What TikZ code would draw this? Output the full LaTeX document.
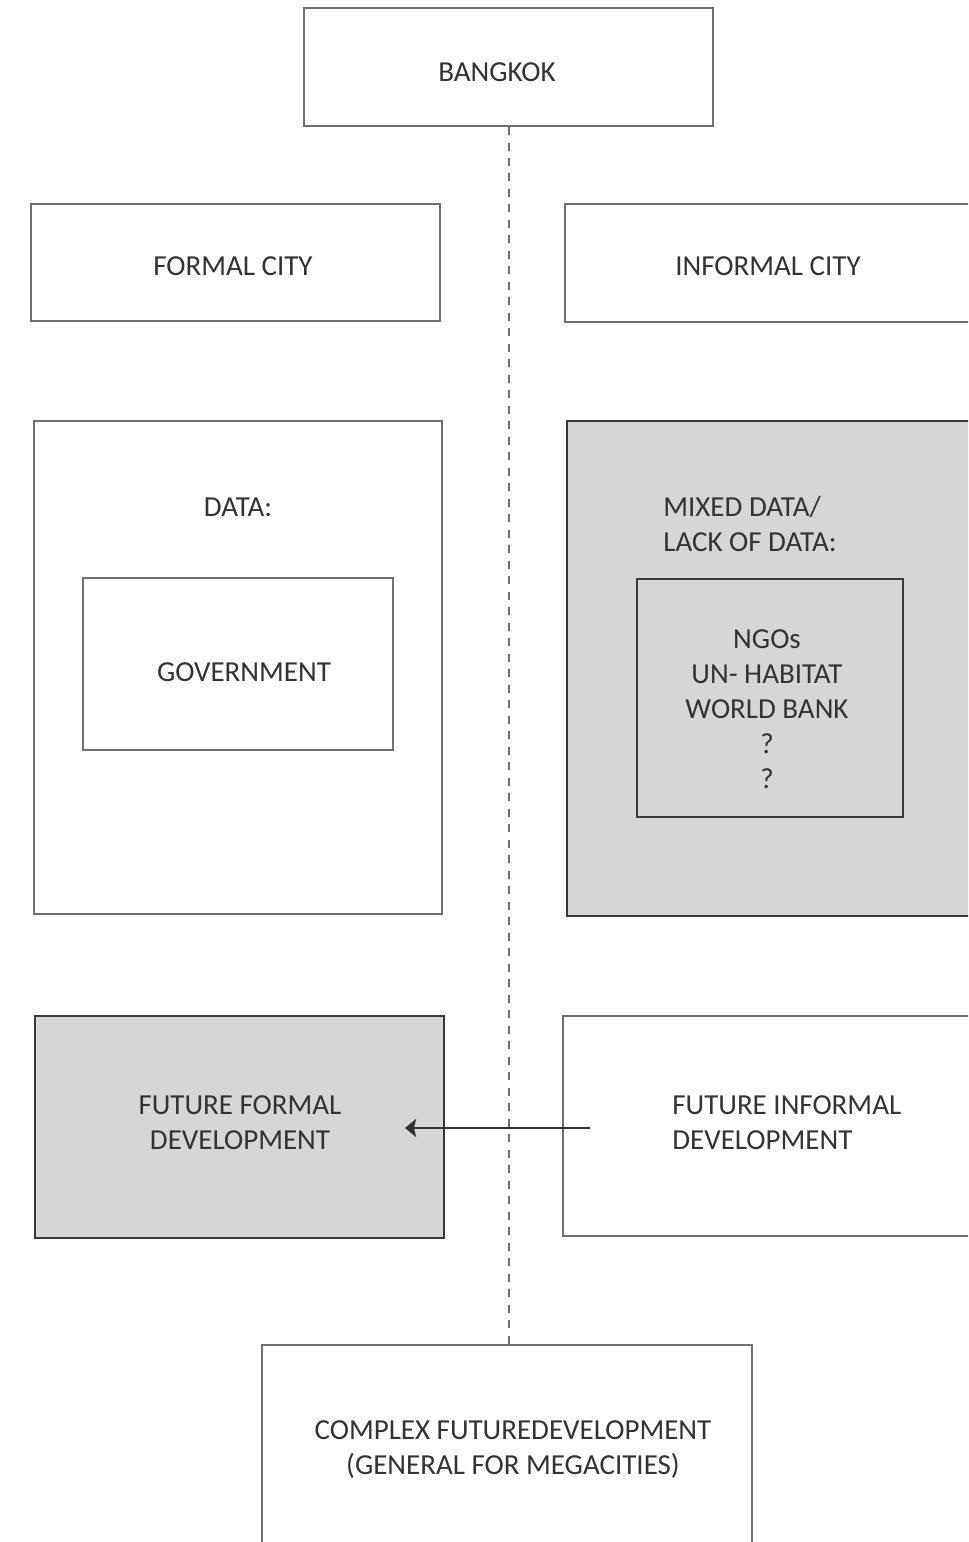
\documentclass[tikz,border=0pt]{standalone}
\usepackage{fontspec}
\setmainfont{Carlito}
\usepackage{xcolor}
\usetikzlibrary{positioning,
	fit,
	arrows.meta}
\definecolor{edge}{HTML}{707070}
\definecolor{darkedge}{HTML}{3A3A3A}
\definecolor{shade}{HTML}{D6D6D6}
\definecolor{ink}{HTML}{333333}
\tikzstyle{bx}=[draw=edge, line width=0.04cm, fill=white, inner sep=0]
\tikzstyle{gbx}=[draw=darkedge, line width=0.04cm, fill=shade, inner sep=0]
\tikzstyle{lbl}=[text=ink, inner sep=0, align=center,
		font=\fontsize{16.5}{19.9}\selectfont]
\tikzstyle{dsh}=[draw=edge, line width=0.04cm, dash pattern=on 0.16cm off 0.15cm]
\tikzstyle{arr}=[draw=ink, line width=0.04cm,
		-{Stealth[length=0.22cm, width=0.36cm, inset=0.04cm]}]

\begin{document}
\begin{tikzpicture}[x=0.02cm, y=-0.02cm]
                \useasboundingbox (0,0) rectangle (968,1542);
                \clip (0,0) rectangle (968,1542);
                % boxes
                \node[bx, fit={(304,8) (713,126)}] (bangkok) {};
                \node[bx, fit={(31,204) (440,321)}] (formal) {};
                \node[bx, fit={(565,204) (980,322)}] (informal) {};
                \node[bx, fit={(34,421) (442,914)}] (data) {};
                \node[bx, fit={(83,578) (393,750)}] (gov) {};
                \node[gbx, fit={(567,421) (980,916)}] (mixed) {};
                \node[gbx, fit={(637,579) (903,817)}] (ngo) {};
                \node[gbx, fit={(35,1016) (444,1238)}] (futformal) {};
                \node[bx, fit={(563,1016) (980,1236)}] (futinformal) {};
                \node[bx, fit={(262,1345) (752,1570)}] (complex) {};
                % texts
                \node[lbl] (bangkoklbl) at (497,72) {BANGKOK};
                \node[lbl] (formallbl) at (233,266) {FORMAL CITY};
                \node[lbl] (informallbl) at (768,266) {INFORMAL CITY};
                \node[lbl] (datalbl) at (238,507) {DATA:};
                \node[lbl] (govlbl) at (244,672) {GOVERNMENT};
                \node[lbl, anchor=west, align=left] (mixedlbl) at (663,524) {MIXED DATA/\\LACK OF DATA:};
                \node[lbl] (ngolbl) at (767,709) {NGOs\\UN- HABITAT\\WORLD BANK\\?\\?};
                \node[lbl] (futformallbl) at (240,1123) {FUTURE FORMAL\\DEVELOPMENT};
                \node[lbl, anchor=west, align=left] (futinformallbl) at (672,1123) {FUTURE INFORMAL\\DEVELOPMENT};
                \node[lbl] (complexlbl) at (513,1450) {COMPLEX FUTUREDEVELOPMENT\\(GENERAL FOR MEGACITIES)};
                % connectors
                \draw[dsh] (bangkok.south) -- (bangkok.south |- complex.north);
                \coordinate (from) at (590,1128);
                \coordinate (to) at (405,1128);
                \draw[arr] (from) -- (to);
            \end{tikzpicture}
\end{document}
